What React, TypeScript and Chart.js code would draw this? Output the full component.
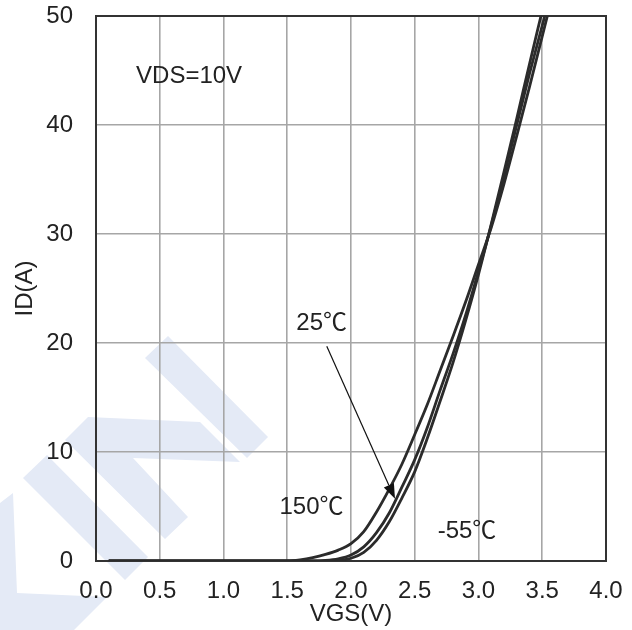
import { useEffect, useRef } from "react";
import { Chart, registerables } from "chart.js";

Chart.register(...registerables);

// ---- Data ----
const vgs150 = [0.1, 1.5, 1.6, 1.7, 1.8, 1.9, 2.0, 2.1, 2.2, 2.3, 2.4, 2.5, 2.6, 2.7, 2.8, 2.9, 3.0, 3.1, 3.2, 3.3, 3.4, 3.54];
const id150 = [0, 0, 0.1, 0.3, 0.6, 1.0, 1.6, 2.7, 4.5, 6.6, 8.9, 11.6, 14.4, 17.5, 20.6, 23.8, 27.2, 30.6, 34.6, 39.0, 43.5, 50];

const vgs25 = [0.1, 1.7, 1.8, 1.9, 2.0, 2.1, 2.2, 2.3, 2.4, 2.5, 2.6, 2.7, 2.8, 2.9, 3.0, 3.1, 3.2, 3.3, 3.4, 3.52];
const id25 = [0, 0, 0.05, 0.2, 0.55, 1.3, 2.6, 4.4, 6.8, 9.3, 12.3, 15.7, 19.0, 22.6, 26.6, 30.8, 35.3, 40.0, 44.7, 50];

const vgsM55 = [0.1, 1.8, 1.9, 2.0, 2.1, 2.2, 2.3, 2.4, 2.5, 2.6, 2.7, 2.8, 2.9, 3.0, 3.1, 3.2, 3.3, 3.4, 3.49];
const idM55 = [0, 0, 0.05, 0.25, 0.8, 1.9, 3.6, 5.8, 8.2, 11.3, 14.7, 18.2, 22.1, 26.3, 30.9, 35.7, 40.6, 45.6, 50];

const xTickValues = [0, 0.5, 1.0, 1.5, 2.0, 2.5, 3.0, 3.5, 4.0];
const yTickValues = [0, 10, 20, 30, 40, 50];

const xTitle = "VGS(V)";
const yTitle = "ID(A)";

// Text annotations, placed in axis units
const noteTexts = ["VDS=10V", "25℃", "150℃", "-55℃"];
const noteX = [0.73, 1.77, 1.69, 2.91];
const noteY = [44.5, 21.8, 4.95, 2.75];

// Arrow from the 25℃ label to its curve (axis units)
const arrowFrom = [1.81, 19.7];
const arrowTo = [2.345, 5.7];

const FONT = "'Liberation Sans', Arial, 'Noto Sans CJK SC', sans-serif";
const TEXT_COLOR = "#222222";
const CURVE_COLOR = "#2b2b2b";

// Decorative watermark polygons (canvas pixels of the 632x630 frame)
const W = 632;
const H = 630;
const watermark: number[][][] = [
  [[145, 358], [168, 336], [268, 437], [247, 458]],
  [[65, 440], [88, 417], [200, 422], [240, 462], [133, 458], [188, 517], [165, 539]],
  [[23, 478], [47, 455], [148, 557], [125, 580]],
  [[0, 503], [13, 493], [17, 593], [107, 597], [74, 630], [0, 630]],
];

const toPts = (xs: number[], ys: number[]) => xs.map((x, i) => ({ x, y: ys[i] }));

export default function App() {
  const ref = useRef<HTMLCanvasElement | null>(null);

  useEffect(() => {
    if (!ref.current) return;

    const watermarkPlugin = {
      id: "watermark",
      beforeDraw(chart: any) {
        const ctx = chart.ctx;
        ctx.save();
        ctx.fillStyle = "rgb(228,234,246)";
        for (const poly of watermark) {
          ctx.beginPath();
          poly.forEach(([px, py], i) => {
            const x = (px / W) * chart.width;
            const y = (py / H) * chart.height;
            if (i === 0) ctx.moveTo(x, y);
            else ctx.lineTo(x, y);
          });
          ctx.closePath();
          ctx.fill();
        }
        ctx.restore();
      },
    };

    const framePlugin = {
      id: "frame",
      beforeDatasetsDraw(chart: any) {
        const { ctx, chartArea } = chart;
        ctx.save();
        ctx.strokeStyle = "#333333";
        ctx.lineWidth = 2;
        ctx.strokeRect(chartArea.left, chartArea.top, chartArea.right - chartArea.left, chartArea.bottom - chartArea.top);
        ctx.restore();
      },
    };

    const notesPlugin = {
      id: "notes",
      afterDatasetsDraw(chart: any) {
        const { ctx, scales } = chart;
        const xs = scales.x;
        const ys = scales.y;
        ctx.save();
        ctx.fillStyle = TEXT_COLOR;
        ctx.font = `24px ${FONT}`;
        ctx.textAlign = "center";
        ctx.textBaseline = "middle";
        noteTexts.forEach((t, i) => {
          ctx.fillText(t, xs.getPixelForValue(noteX[i]), ys.getPixelForValue(noteY[i]));
        });
        // arrow
        const x1 = xs.getPixelForValue(arrowFrom[0]);
        const y1 = ys.getPixelForValue(arrowFrom[1]);
        const x2 = xs.getPixelForValue(arrowTo[0]);
        const y2 = ys.getPixelForValue(arrowTo[1]);
        const ang = Math.atan2(y2 - y1, x2 - x1);
        const headLen = 15;
        const headW = 5.5;
        const bx = x2 - headLen * Math.cos(ang);
        const by = y2 - headLen * Math.sin(ang);
        ctx.strokeStyle = "#111111";
        ctx.lineWidth = 1.2;
        ctx.beginPath();
        ctx.moveTo(x1, y1);
        ctx.lineTo(bx, by);
        ctx.stroke();
        ctx.fillStyle = "#111111";
        ctx.beginPath();
        ctx.moveTo(x2, y2);
        ctx.lineTo(bx + headW * Math.sin(ang), by - headW * Math.cos(ang));
        ctx.lineTo(bx - headW * Math.sin(ang), by + headW * Math.cos(ang));
        ctx.closePath();
        ctx.fill();
        ctx.restore();
      },
    };

    const ds = (xs: number[], ys: number[], label: string) => ({
      label,
      data: toPts(xs, ys),
      borderColor: CURVE_COLOR,
      borderWidth: 2.8,
      pointRadius: 0,
      fill: false,
      cubicInterpolationMode: "monotone" as const,
    });

    const chart = new Chart(ref.current, {
      type: "line",
      data: {
        datasets: [
          ds(vgs150, id150, "150℃"),
          ds(vgs25, id25, "25℃"),
          ds(vgsM55, idM55, "-55℃"),
        ],
      },
      options: {
        responsive: false,
        animation: false,
        events: [],
        layout: { padding: { left: 11, top: 16, right: 26, bottom: 1 } },
        plugins: {
          legend: { display: false },
          tooltip: { enabled: false },
        },
        scales: {
          x: {
            type: "linear",
            min: 0,
            max: 4,
            afterBuildTicks: (scale: any) => {
              scale.ticks = xTickValues.map((v) => ({ value: v }));
            },
            afterFit: (scale: any) => {
              scale.height = 68;
              scale.paddingLeft = 0;
              scale.paddingRight = 0;
            },
            grid: { color: "#a6a6a6", lineWidth: 1.6, drawTicks: false },
            border: { display: false },
            ticks: {
              padding: 16,
              color: TEXT_COLOR,
              font: { family: FONT, size: 24 },
              maxRotation: 0,
              autoSkip: false,
              callback: (v: any) => Number(v).toFixed(1),
            },
            title: {
              display: true,
              text: xTitle,
              color: TEXT_COLOR,
              font: { family: FONT, size: 24 },
              padding: 0,
            },
          },
          y: {
            type: "linear",
            min: 0,
            max: 50,
            afterBuildTicks: (scale: any) => {
              scale.ticks = yTickValues.map((v) => ({ value: v }));
            },
            afterFit: (scale: any) => {
              scale.width = 85;
              scale.paddingTop = 0;
              scale.paddingBottom = 0;
            },
            grid: { color: "#a6a6a6", lineWidth: 1.6, drawTicks: false },
            border: { display: false },
            ticks: {
              padding: 23,
              color: TEXT_COLOR,
              font: { family: FONT, size: 24 },
              autoSkip: false,
              callback: (v: any) => String(v),
            },
            title: {
              display: true,
              text: yTitle,
              color: TEXT_COLOR,
              font: { family: FONT, size: 24 },
              padding: 0,
            },
          },
        },
      },
      plugins: [watermarkPlugin, framePlugin, notesPlugin],
    });

    return () => chart.destroy();
  }, []);

  return (
    <div style={{ position: "absolute", left: 0, top: 0, width: W, height: H, background: "#ffffff" }}>
      <canvas ref={ref} width={W} height={H} style={{ display: "block", width: W, height: H }} />
    </div>
  );
}
